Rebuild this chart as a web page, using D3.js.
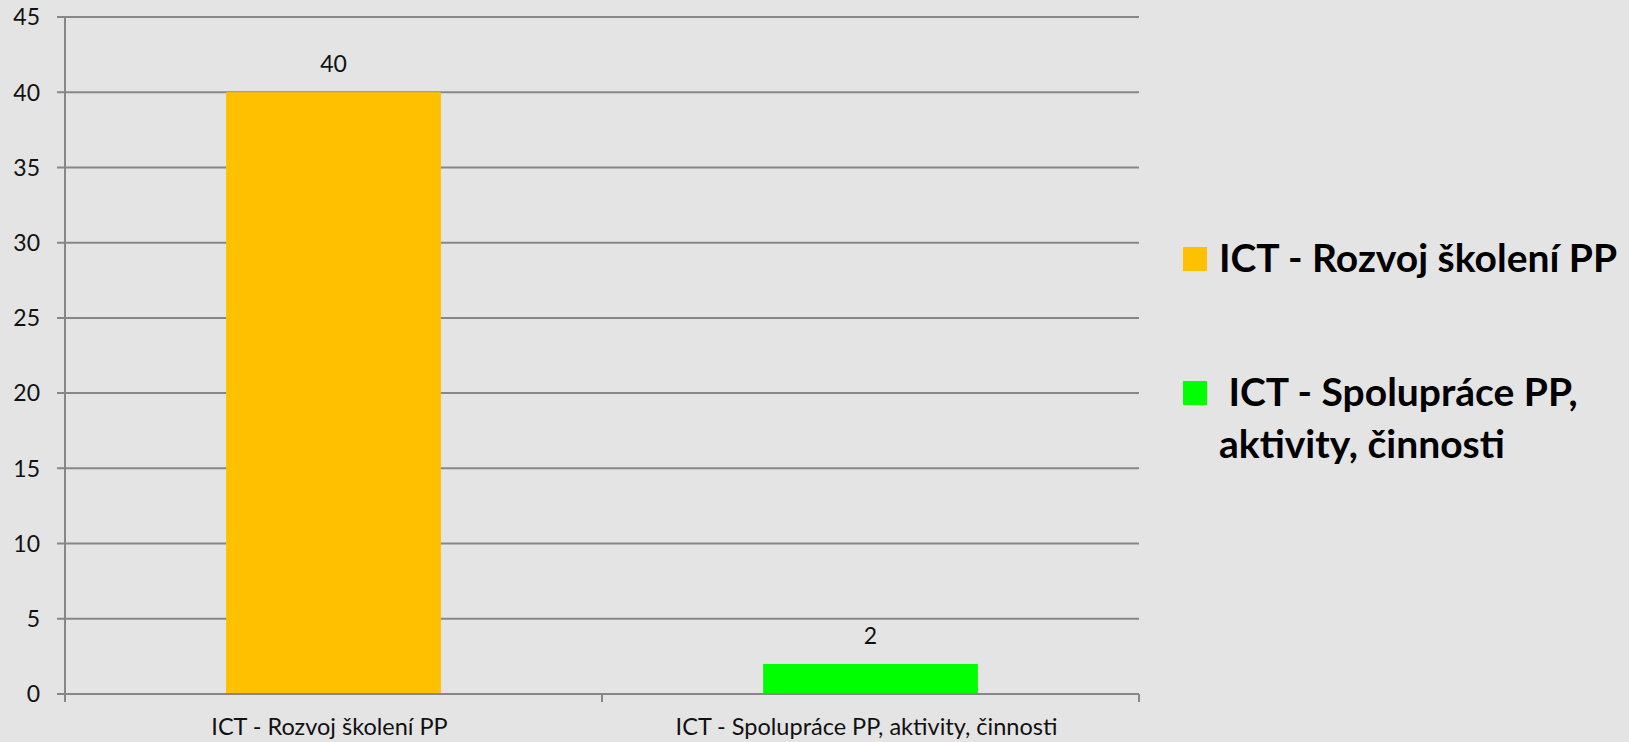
<!DOCTYPE html>
<html>
<head>
<meta charset="utf-8">
<script src="https://cdn.jsdelivr.net/npm/d3@7"></script>
<style>
  html, body { margin: 0; padding: 0; background: #e4e4e4; }
  svg { display: block; font-family: Lato, "Open Sans", sans-serif; }
</style>
</head>
<body>
<svg id="chart" width="1629" height="742"></svg>
<script>
// chart data
const categories = ["ICT - Rozvoj školení PP", "ICT - Spolupráce PP, aktivity, činnosti"];
const values = [40, 2];
const colors = ["#ffc000", "#00ff00"];
const yTicks = [0, 5, 10, 15, 20, 25, 30, 35, 40, 45];
// legend lines (second entry wraps onto two lines)
const legendLines = [["ICT - Rozvoj školení PP"], ["\u00a0ICT - Spolupráce PP,", "aktivity, činnosti"]];

const plotLeft = 65, plotRight = 1139, plotTop = 17, plotBottom = 694;
const gridColor = "#878787";

const svg = d3.select("#chart");

const x = d3.scaleBand()
  .domain(categories)
  .range([plotLeft, plotRight])
  .paddingInner(0.6)
  .paddingOuter(0.3);

const y = d3.scaleLinear()
  .domain([0, 45])
  .range([plotBottom, plotTop]);

// gridlines with short ticks on the left
svg.append("g")
  .selectAll("line")
  .data(yTicks)
  .join("line")
  .attr("x1", plotLeft - 8)
  .attr("x2", plotRight)
  .attr("y1", d => y(d))
  .attr("y2", d => y(d))
  .attr("stroke", gridColor)
  .attr("stroke-width", 2);

// y tick labels
svg.append("g")
  .selectAll("text")
  .data(yTicks)
  .join("text")
  .attr("x", 40)
  .attr("y", d => y(d))
  .attr("dy", "0.36em")
  .attr("text-anchor", "end")
  .attr("font-size", 23)
  .attr("fill", "#111")
  .text(d => d);

// bars
svg.append("g")
  .selectAll("rect")
  .data(values)
  .join("rect")
  .attr("x", (d, i) => x(categories[i]))
  .attr("y", d => y(d))
  .attr("width", x.bandwidth())
  .attr("height", d => y(0) - y(d) - 1)
  .attr("fill", (d, i) => colors[i]);

// value labels
svg.append("g")
  .selectAll("text")
  .data(values)
  .join("text")
  .attr("x", (d, i) => x(categories[i]) + x.bandwidth() / 2)
  .attr("y", d => y(d) - 20)
  .attr("text-anchor", "middle")
  .attr("font-size", 23)
  .attr("fill", "#111")
  .text(d => d);

// axis lines
svg.append("line")
  .attr("x1", plotLeft).attr("x2", plotLeft)
  .attr("y1", plotTop).attr("y2", plotBottom + 8)
  .attr("stroke", gridColor).attr("stroke-width", 2);

const bounds = [plotLeft, ...categories.map(c => x(c) - x.step() * x.paddingOuter() + x.step())];
svg.append("g")
  .selectAll("line")
  .data(bounds)
  .join("line")
  .attr("x1", d => d).attr("x2", d => d)
  .attr("y1", plotBottom).attr("y2", plotBottom + 8)
  .attr("stroke", gridColor).attr("stroke-width", 2);

// category labels
svg.append("g")
  .selectAll("text")
  .data(categories)
  .join("text")
  .attr("x", d => x(d) + x.bandwidth() / 2 - 4)
  .attr("y", 735)
  .attr("text-anchor", "middle")
  .attr("font-size", 23.5)
  .attr("fill", "#111")
  .text(d => d);

// legend
const legendTops = [247, 381];
const legend = svg.append("g")
  .selectAll("g")
  .data(legendLines)
  .join("g");

legend.append("rect")
  .attr("x", 1183)
  .attr("y", (d, i) => legendTops[i])
  .attr("width", 24)
  .attr("height", 24)
  .attr("fill", (d, i) => colors[i]);

legend.each(function(lines, i) {
  d3.select(this).selectAll("text")
    .data(lines)
    .join("text")
    .attr("x", 1219)
    .attr("y", (d, j) => legendTops[i] + 25 + j * 52)
    .attr("font-size", 39)
    .attr("font-weight", "bold")
    .attr("fill", "#000")
    .text(d => d);
});
</script>
</body>
</html>
